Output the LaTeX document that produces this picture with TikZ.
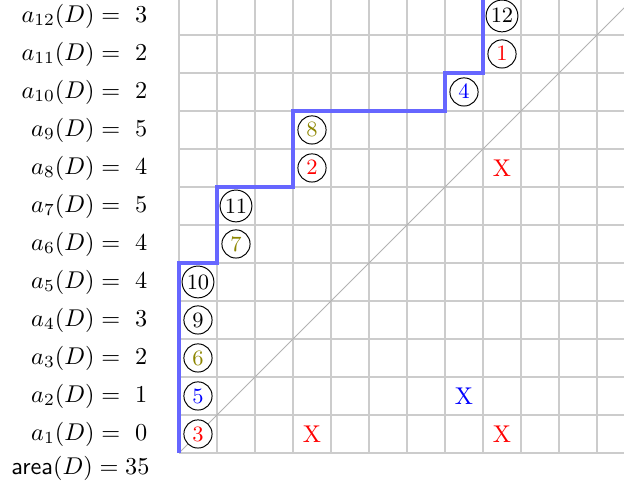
\documentclass[tikz,border=0pt]{standalone}
\usepackage{amsmath}
\usepackage{xcolor}
\usepackage{tikz}
\usetikzlibrary{positioning}

\begin{document}
\begin{tikzpicture}[scale=0.55,
    cnum/.style={circle, draw=black, fill=white, inner sep=0.8pt, minimum size=11.6pt,
      font=\small},
    lab/.style={anchor=east}]
  \useasboundingbox (-4.71,-0.92) rectangle (11.71,11.92);
  \clip (-4.71,-0.92) rectangle (11.71,11.92);
  \draw[gray!40, line width=0.5pt] (0,0) grid (12,12);
  \draw[gray!60, line width=0.4pt] (0,0) -- (12,12);
  \draw[blue!60, line width=1.8pt] (0,0) -- (0,5) -- (1,5) -- (1,7) -- (3,7) -- (3,9)
    -- (7,9) -- (7,10) -- (8,10) -- (8,12) -- (12,12);
  \foreach \r/\c/\val/\col in {1/0/3/red, 2/0/5/blue, 3/0/6/olive, 4/0/9/black,
      5/0/10/black, 6/1/7/olive, 7/1/11/black, 8/3/2/red, 9/3/8/olive,
      10/7/4/blue, 11/8/1/red, 12/8/12/black} {
    \node[cnum, text=\col] (c\r) at (\c+0.5,\r-0.5) {$\val$};
  }
  \foreach \r/\c/\col in {1/3/red, 1/8/red, 2/7/blue, 8/8/red} {
    \node[text=\col] (x\r-\c) at (\c+0.5,\r-0.5) {X};
  }
  \foreach \r/\val in {1/0, 2/1, 3/2, 4/3, 5/4, 6/4, 7/5, 8/4, 9/5, 10/2, 11/2, 12/3} {
    \node[lab] (a\r) at (-0.61,\r-0.5) {$a_{\r}(D) =\ \val$};
  }
  \node[lab] (area) at (-0.55,-0.4) {$\textsf{area}(D) = 35$};
\end{tikzpicture}
\end{document}
